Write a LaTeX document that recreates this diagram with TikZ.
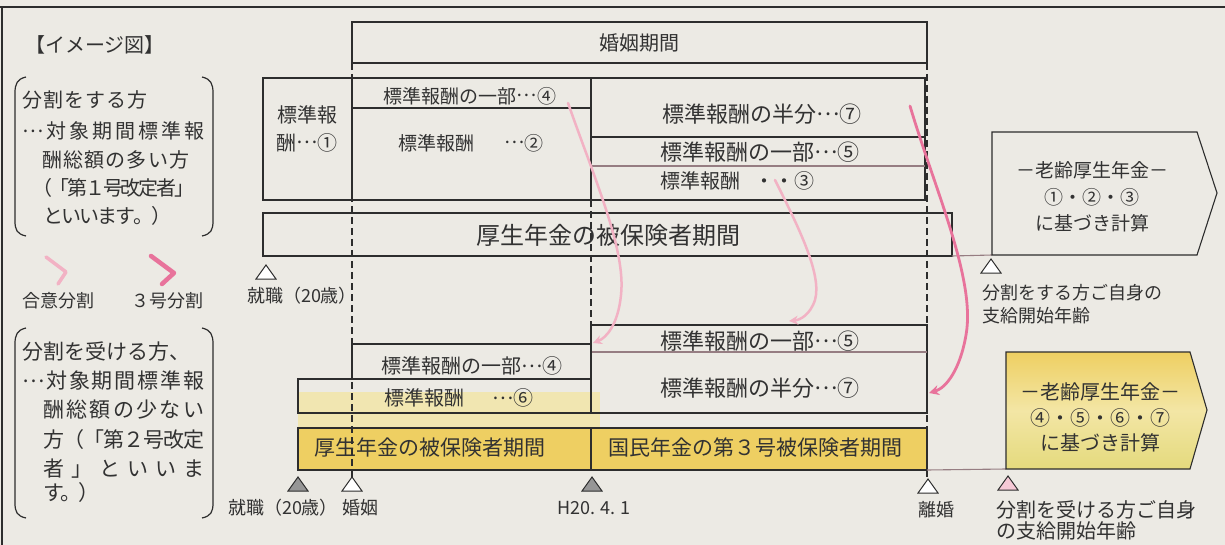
\documentclass[tikz,border=0pt]{standalone}
\usepackage{fontspec}
\setmainfont{Noto Sans CJK JP}
\usetikzlibrary{arrows.meta}
\definecolor{paper}{RGB}{236,234,228}
\definecolor{ink}{RGB}{45,45,45}
\definecolor{txt}{RGB}{50,50,50}
\definecolor{hlyellow}{RGB}{238,207,98}
\definecolor{ylite}{RGB}{243,230,165}
\definecolor{ygreen}{RGB}{228,218,125}
\definecolor{lpink}{RGB}{242,178,196}
\definecolor{dpink}{RGB}{232,115,155}
\definecolor{pgrey}{RGB}{150,125,130}
\definecolor{tgrey}{RGB}{150,150,150}
% centred ellipsis
\newcommand\el{\raisebox{0.33em}{…}}
% spread characters of #2 over width #1
\newcommand\sprd[2]{\hbox to #1{\sprfirst#2\relax}}
\def\sprfirst#1{#1\sprnext}
\def\sprnext#1{\ifx\relax#1\else\hss#1\expandafter\sprnext\fi}
\newcommand\tri[3]{\draw[ink, line width=1pt, fill=#3] (#1,#2) ++(0,-7) -- ++(10,14) -- ++(-20,0) -- cycle;}
\tikzset{
  t/.style={text=txt, inner sep=0pt, font=\fontsize{#1}{#1}\selectfont},
  t/.default=18,
  boxn/.style={draw=ink, line width=1.1pt, inner sep=0pt, outer sep=0pt, anchor=north west},
  ln/.style={draw=ink, line width=1.1pt},
  pln/.style={draw=pgrey, line width=1.1pt},
  dsh/.style={draw=ink, line width=1.4pt, dash pattern=on 7pt off 4pt},
  brk/.style={draw=ink, line width=1.2pt},
  lparrow/.style={draw=lpink, line width=2.5pt, line cap=round, -{Stealth[length=9pt,width=9pt]}},
  dparrow/.style={draw=dpink, line width=2.8pt, line cap=round, -{Stealth[length=10pt,width=10pt]}},
}
\begin{document}
\begin{tikzpicture}[x=1pt,y=-1pt]
\useasboundingbox (0,0) rectangle (1225,545);
\fill[paper] (0,0) rectangle (1225,545);
% frame
\draw[ink, line width=1.6pt] (0,7) -- (1225,7);
\draw[ink, line width=1.6pt] (2,7) -- (2,545);

% title
\node[t=20] (title) at (95,45) {【イメージ図】};

% bracket 1
\draw[brk] (26,77) .. controls (17,79) and (15,84) .. (15,93) -- (15,221) .. controls (15,230) and (17,234) .. (26,236);
\draw[brk] (202,77) .. controls (211,79) and (213,84) .. (213,93) -- (213,221) .. controls (213,230) and (211,234) .. (202,236);
\node[t=20, anchor=west] (p1a) at (22,100) {\sprd{125pt}{分割をする方}};
\node[t=20, anchor=west] (p1b) at (22,131) {\hbox to 182pt{\el\hss 対\hss 象\hss 期\hss 間\hss 標\hss 準\hss 報}};
\node[t=20, anchor=west] (p1c) at (42,160) {\sprd{147pt}{酬総額の多い方}};
\node[t=20, anchor=west] (p1d) at (32,188) {\sprd{162pt}{（「第１号改定者」}};
\node[t=20, anchor=west] (p1e) at (43,216) {\sprd{128pt}{といいます。）}};

% legend
\draw[lpink, line width=3.5pt, line cap=round, line join=round] (46,257) -- (66,272) -- (58,284);
\draw[dpink, line width=4.5pt, line cap=round, line join=round] (151,256) -- (174,273) -- (162,284);
\node[t=18] (lg1) at (58,301) {合意分割};
\node[t=18] (lg2) at (167,301) {３号分割};

% bracket 2
\draw[brk] (26,328) .. controls (17,330) and (15,335) .. (15,344) -- (15,503) .. controls (15,512) and (17,516) .. (26,518);
\draw[brk] (202,328) .. controls (211,330) and (213,335) .. (213,344) -- (213,503) .. controls (213,512) and (211,516) .. (202,518);
\node[t=21, anchor=west] (p2a) at (22,352) {分割を受ける方、};
\node[t=21, anchor=west] (p2b) at (22,381) {\hbox to 182pt{\el\hss 対\hss 象\hss 期\hss 間\hss 標\hss 準\hss 報}};
\node[t=21, anchor=west] (p2c) at (43,410) {\sprd{161pt}{酬総額の少ない}};
\node[t=21, anchor=west] (p2d) at (43,440) {\sprd{161pt}{方（「第２号改定}};
\node[t=21, anchor=west] (p2e) at (43,469) {\sprd{161pt}{者」といいま}};
\node[t=21, anchor=west] (p2f) at (43,493) {\sprd{56pt}{す。）}};

% ---------- highlights (bottom) ----------
\fill[ylite, opacity=0.8] (298,392) rectangle (600,428);
\fill[hlyellow] (298,428) rectangle (591,470);
\fill[hlyellow] (591,428) rectangle (927,470);
\shade[top color=hlyellow, bottom color=ygreen, middle color=ylite]
  (1006,352) -- (1190,352) -- (1207,410) -- (1190,469) -- (1006,469) -- cycle;

% ---------- dashed period lines ----------
\draw[dsh] (352,63) -- (352,478);
\draw[dsh] (591,200) -- (591,325);
\draw[dsh] (927,63) -- (927,480);

% ---------- top section ----------
\node[boxn, minimum width=575pt, minimum height=41pt] (kon) at (352,22) {};
\node[t=20] (konT) at (639,43) {婚姻期間};

\node[boxn, minimum width=89pt, minimum height=122pt] (b1) at (263,78) {};
\node[t=20] (b1a) at (307,115) {標準報};
\node[t=20] (b1b) at (307,143) {酬\el ①};

\node[boxn, minimum width=239pt, minimum height=122pt] (b2) at (352,78) {};
\draw[ln] (b2.west |- 0,108) -- (b2.east |- 0,108);
\node[t=19] (t4) at (470,96) {標準報酬の一部\el ④};
\node[t=19] (t2) at (471,143) {標準報酬\hspace{30pt}\el ②};

\node[boxn, minimum width=334pt, minimum height=122pt] (b3) at (591,78) {};
\draw[ln] (b3.west |- 0,137) -- (b3.east |- 0,137);
\draw[pln] (b3.west |- 0,166) -- (b3.east |- 0,166);
\node[t=22] (t7) at (762,114) {標準報酬の半分\el ⑦};
\node[t=22] (t5) at (760,152) {標準報酬の一部\el ⑤};
\node[t=20, anchor=west] (t3) at (660,181) {標準報酬\hspace{14pt}・・③};

\node[boxn, minimum width=689pt, minimum height=43pt] (kn1) at (263,213) {};
\node[t=24] (kn1T) at (608,235) {厚生年金の被保険者期間};
\tri{266}{272}{white}
\node[t=18] (shu1) at (302,296) {就職（20歳）};

% right pentagon 1
\draw[pln] (kn1.south east) -- (992,255);
\draw[ln] (992,132) -- (1197,132) -- (1217,193) -- (1197,255) -- (992,255) -- cycle;
\node[t=19] (r1a) at (1092,170) {－老齢厚生年金－};
\node[t=19] (r1b) at (1092,197) {①・②・③};
\node[t=19] (r1c) at (1092,223) {に基づき計算};
\tri{991}{266}{white}
\node[t=18, anchor=west] (r1d) at (982,293) {分割をする方ご自身の};
\node[t=18, anchor=west] (r1e) at (982,316) {支給開始年齢};

% ---------- bottom section ----------
\node[boxn, minimum width=336pt, minimum height=88pt] (b57) at (591,325) {};
\draw[pln] (b57.west |- 0,352) -- (b57.east |- 0,352);
\node[t=22] (u5) at (760,341) {標準報酬の一部\el ⑤};
\node[t=22] (u7) at (760,388) {標準報酬の半分\el ⑦};

\node[boxn, minimum width=239pt, minimum height=35pt] (b4) at (352,344) {};
\node[t=20] (u4) at (472,366) {標準報酬の一部\el ④};
\node[boxn, minimum width=293pt, minimum height=34pt] (b6) at (298,379) {};
\node[t=20] (u6) at (459,398) {標準報酬\hspace{28pt}\el ⑥};

\node[boxn, minimum width=293pt, minimum height=42pt] (kn2) at (298,428) {};
\node[t=21] (kn2T) at (430,448) {厚生年金の被保険者期間};
\node[boxn, minimum width=336pt, minimum height=42pt] (kk3) at (591,428) {};
\node[t=21] (kk3T) at (755,448) {国民年金の第３号被保険者期間};

\tri{298}{484}{tgrey}
\tri{352}{484}{white}
\tri{592}{484}{tgrey}
\tri{928}{486}{white}
\node[t=18] (shu2) at (283,508) {就職（20歳）};
\node[t=18] (konin) at (360,508) {婚姻};
\node[t=18] (h20) at (594,508) {H20. 4. 1};
\node[t=18] (rikon) at (936,510) {離婚};

% right pentagon 2
\draw[pln] (kk3.south east) -- (1006,469);
\draw[ln] (1006,352) -- (1190,352) -- (1207,410) -- (1190,469) -- (1006,469) -- cycle;
\node[t=20] (r2a) at (1100,392) {－老齢厚生年金－};
\node[t=20] (r2b) at (1100,418) {④・⑤・⑥・⑦};
\node[t=20] (r2c) at (1100,443) {に基づき計算};
\tri{1008}{483}{lpink!70}
\node[t=20, anchor=west] (r2d) at (996,510) {分割を受ける方ご自身};
\node[t=20, anchor=west] (r2e) at (996,531) {の支給開始年齢};

% ---------- pink split arrows ----------
\coordinate (a4s) at (568,103);
\coordinate (a4e) at (593,343);
\coordinate (a5s) at (775,180);
\coordinate (a5e) at (789,321);
\coordinate (a7s) at (910,106);
\coordinate (a7e) at (929,393);
\draw[lparrow] (a4s) .. controls (595,180) and (626,250) .. (621,295) .. controls (618,325) and (606,338) .. (a4e);
\draw[lparrow] (a5s) .. controls (800,230) and (822,275) .. (815,300) .. controls (810,315) and (800,320) .. (a5e);
\draw[dparrow] (a7s) .. controls (935,190) and (976,280) .. (966,335) .. controls (960,370) and (946,388) .. (a7e);
\end{tikzpicture}
\end{document}
